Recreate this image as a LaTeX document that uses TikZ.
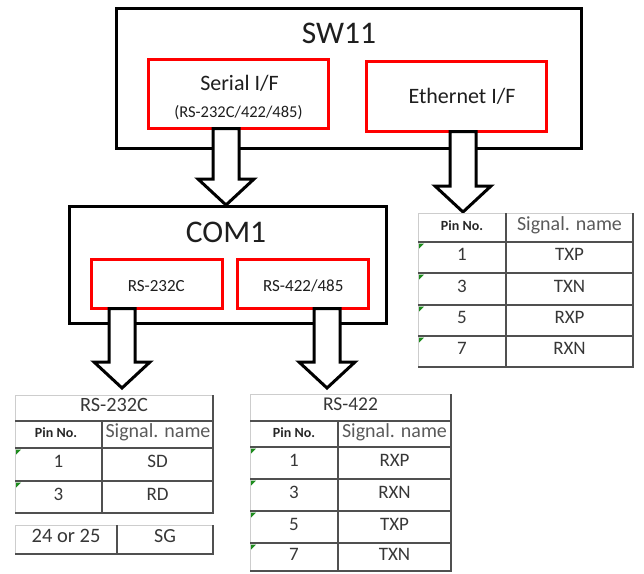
\documentclass[tikz,border=0pt]{standalone}
\usepackage{fontspec}
\setmainfont{Carlito}
\usetikzlibrary{calc}
\definecolor{celltext}{RGB}{55,55,55}
\definecolor{headtext}{RGB}{90,90,90}
\definecolor{boxtext}{RGB}{30,30,30}
\definecolor{linelight}{RGB}{205,205,205}
\definecolor{linedark}{RGB}{80,80,80}
\definecolor{errgreen}{RGB}{30,140,30}
\newcommand\fsz[1]{\fontsize{#1}{#1}\selectfont}
\newcommand\blockarrow[2]{%
  \draw[barrow] let \p1=(#1), \p2=(#2) in
    (\x2-13pt,\y1+1.5pt) -- (\x2-13pt,\y2+26pt) -- (\x2-28pt,\y2+26pt) -- (\x2,\y2)
    -- (\x2+28pt,\y2+26pt) -- (\x2+13pt,\y2+26pt) -- (\x2+13pt,\y1+1.5pt) -- cycle;}
\begin{document}
\begin{tikzpicture}[x=1pt,y=-1pt,
  obox/.style={draw=black, line width=3pt, fill=white, inner sep=0pt},
  rbox/.style={draw=red, line width=3pt, fill=white, inner sep=0pt},
  btxt/.style={inner sep=0pt, anchor=base, text=boxtext},
  cell/.style={inner sep=0pt, anchor=center, text height=0.644em, text depth=0pt, text=celltext, font=\fsz{19}},
  pinhead/.style={cell, font=\bfseries\fsz{14}, text=black!85},
  sighead/.style={cell, font=\fsz{20}, text=headtext},
  tlight/.style={draw=linelight, line width=1pt},
  tdark/.style={draw=linedark, line width=1.5pt},
  barrow/.style={draw=black, fill=white, line width=3pt, line join=miter},
  errmark/.style={fill=errgreen}
]
\useasboundingbox (0,0) rectangle (644,573);

% ---- SW11 ----
\node[obox, minimum width=465pt, minimum height=140pt] (sw) at (349,78.5) {};
\node[btxt, font=\fsz{31.5}] (swt) at (339,43) {SW11};
\node[rbox, minimum width=180pt, minimum height=69pt] (ser) at (238.5,94) {};
\node[btxt, font=\fsz{22}] (sert) at (239.5,90) {Serial I/F};
\node[btxt, font=\fsz{16.5}] (sert2) at (238.5,117) {(RS-232C/422/485)};
\node[rbox, minimum width=180pt, minimum height=70pt] (eth) at (456.5,96.5) {};
\node[btxt, font=\fsz{22}] (etht) at (462,103) {Ethernet I/F};

% ---- COM1 ----
\node[obox, minimum width=317pt, minimum height=117pt] (com) at (228,265) {};
\node[btxt, font=\fsz{31.5}] (comt) at (226,242) {COM1};
\node[rbox, minimum width=131pt, minimum height=49pt] (r232) at (157,284) {};
\node[btxt, font=\fsz{17}] (r232t) at (156.3,291) {RS-232C};
\node[rbox, minimum width=131pt, minimum height=49pt] (r422) at (303,284) {};
\node[btxt, font=\fsz{17}] (r422t) at (303.3,291) {RS-422/485};

% ---- arrow tips ----
\coordinate (tipA) at (226,205);
\coordinate (tipB) at (463,212);
\coordinate (tipC) at (122,388);
\coordinate (tipD) at (327,388);

\blockarrow{ser.south}{tipA}
\blockarrow{eth.south}{tipB}
\blockarrow{r232.south}{tipC}
\blockarrow{r422.south}{tipD}

% ---- Ethernet table ----
\draw[tlight] (418,367) -- (418,213) -- (633,213);
\foreach \yy in {242,273,305,336}{\draw[tdark] (418,\yy) -- (633,\yy);}
\draw[tdark] (418,367) -- (633,367) -- (633,213);
\draw[tdark] (506,213) -- (506,367);
\node[pinhead] (ep) at (462,227.5) {Pin No.};
\node[sighead] (es) at (569.5,227.5) {Signal. name};
\node[cell] (e1) at (462,257.5) {1};   \node[cell] (e1s) at (569.5,257.5) {TXP};
\node[cell] (e3) at (462,289) {3};     \node[cell] (e3s) at (569.5,289) {TXN};
\node[cell] (e5) at (462,320.5) {5};   \node[cell] (e5s) at (569.5,320.5) {RXP};
\node[cell] (e7) at (462,351.5) {7};   \node[cell] (e7s) at (569.5,351.5) {RXN};
\foreach \yy in {243.5,274.5,306.5,337.5}{\fill[errmark] (419,\yy) -- ++(5,0) -- ++(-5,5) -- cycle;}

% ---- RS-232C table ----
\draw[tlight] (15,513) -- (15,395) -- (213,395);
\foreach \yy in {421,448,481}{\draw[tdark] (15,\yy) -- (213,\yy);}
\draw[tdark] (15,513) -- (213,513) -- (213,395);
\draw[tdark] (102,421) -- (102,513);
\node[cell, font=\fsz{20.3}] (at) at (114,408) {RS-232C};
\node[pinhead] (ap) at (56,434.5) {Pin No.};
\node[sighead] (as) at (158,434.5) {Signal. name};
\node[cell] (a1) at (58.5,464.5) {1};  \node[cell] (a1s) at (157.5,464.5) {SD};
\node[cell] (a3) at (58.5,497) {3};    \node[cell] (a3s) at (157.5,497) {RD};
\foreach \yy in {449.5,482.5}{\fill[errmark] (16,\yy) -- ++(5,0) -- ++(-5,5) -- cycle;}
% SG row
\draw[tlight] (15,554) -- (15,525) -- (213,525);
\draw[tdark] (15,554) -- (213,554) -- (213,525);
\draw[tdark] (117,525) -- (117,554);
\node[cell, font=\fsz{20.5}] (sg1) at (66,539.5) {24 or 25};
\node[cell, font=\fsz{20}] (sg2) at (165,539.5) {SG};

% ---- RS-422 table ----
\draw[tlight] (250,571) -- (250,394) -- (451,394);
\foreach \yy in {421,447,479,511,543}{\draw[tdark] (250,\yy) -- (451,\yy);}
\draw[tdark] (250,571) -- (451,571) -- (451,394);
\draw[tdark] (338,421) -- (338,571);
\node[cell, font=\fsz{19.5}] (bt) at (350.5,407.5) {RS-422};
\node[pinhead] (bp) at (294,434) {Pin No.};
\node[sighead] (bs) at (394.5,434) {Signal. name};
\node[cell] (b1) at (294,463) {1};  \node[cell] (b1s) at (394.5,463) {RXP};
\node[cell] (b3) at (294,495) {3};  \node[cell] (b3s) at (394.5,495) {RXN};
\node[cell] (b5) at (294,527) {5};  \node[cell] (b5s) at (394.5,527) {TXP};
\node[cell] (b7) at (294,557) {7};  \node[cell] (b7s) at (394.5,557) {TXN};
\foreach \yy in {448.5,480.5,512.5,544.5}{\fill[errmark] (251,\yy) -- ++(5,0) -- ++(-5,5) -- cycle;}
\end{tikzpicture}
\end{document}
